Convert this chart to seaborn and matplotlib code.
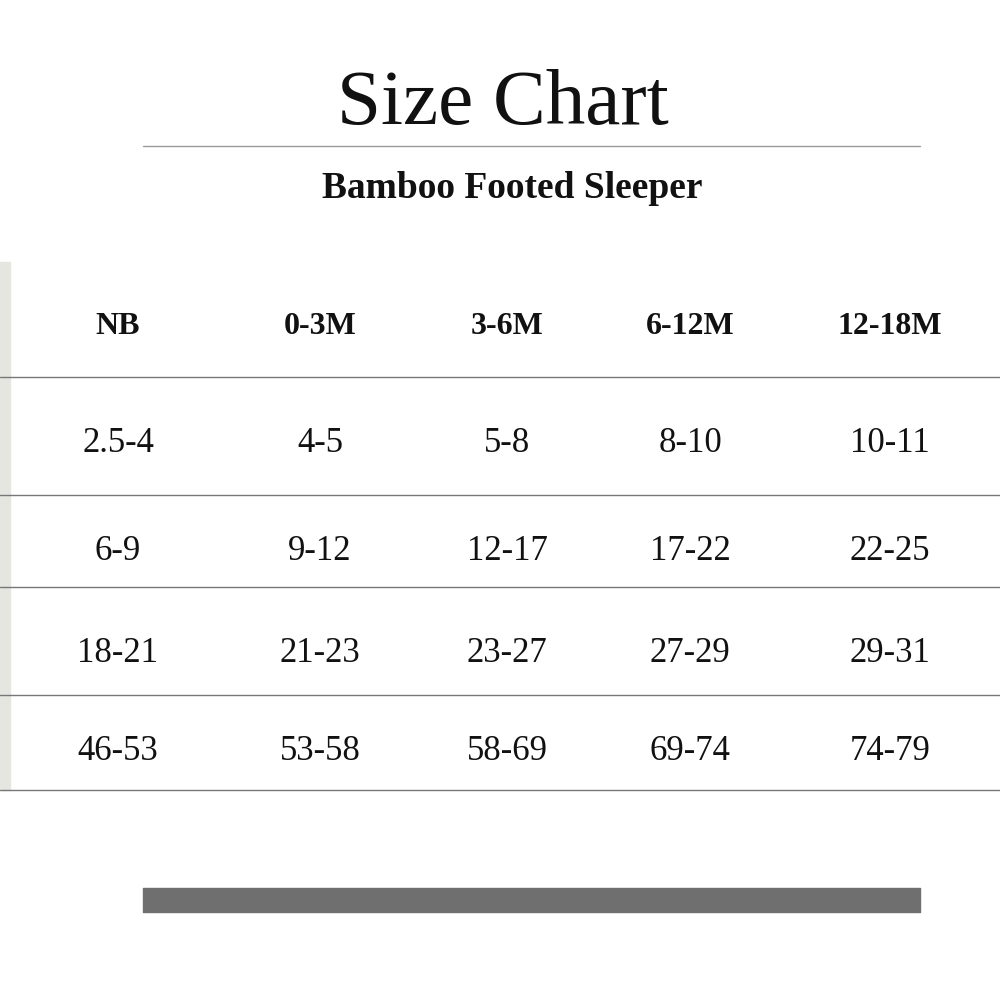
import matplotlib
matplotlib.use("Agg")
import matplotlib.pyplot as plt
import seaborn as sns

sns.set_theme(style="white")
plt.rcParams['font.family'] = ['Liberation Serif', 'DejaVu Serif']

title = "Size Chart"
subtitle = "Bamboo Footed Sleeper"
sizes = ["NB", "0-3M", "3-6M", "6-12M", "12-18M"]
row1 = ["2.5-4", "4-5", "5-8", "8-10", "10-11"]
row2 = ["6-9", "9-12", "12-17", "17-22", "22-25"]
row3 = ["18-21", "21-23", "23-27", "27-29", "29-31"]
row4 = ["46-53", "53-58", "58-69", "69-74", "74-79"]
rows = [row1, row2, row3, row4]

col_x = [118, 320, 507, 690, 890]
row_y = [443, 552, 653, 752]
line_y = [377, 495, 587, 695, 790]

fig = plt.figure(figsize=(10, 10), dpi=100)
ax = fig.add_axes([0, 0, 1, 1])
ax.set_xlim(0, 1000)
ax.set_ylim(1000, 0)
ax.axis("off")

ax.text(503, 105, title, ha="center", va="center", fontsize=57, color="#111")
ax.plot([143, 920], [146, 146], color="#999", lw=1)
ax.text(512, 188, subtitle, ha="center", va="center", fontsize=27, fontweight="bold", color="#111")

ax.fill_between([0, 10], 262, 790, color="#e6e6e0")

for x, s in zip(col_x, sizes):
    ax.text(x, 326, s, ha="center", va="center", fontsize=23, fontweight="bold", color="#111")
for y in line_y:
    ax.plot([0, 1000], [y, y], color="#777", lw=1)
for y, r in zip(row_y, rows):
    for x, v in zip(col_x, r):
        ax.text(x, y, v, ha="center", va="center", fontsize=25, color="#111")

ax.fill_between([143, 920], 888, 912, color="#6f6f6f")
fig.savefig("out.png", dpi=100, facecolor="white")
